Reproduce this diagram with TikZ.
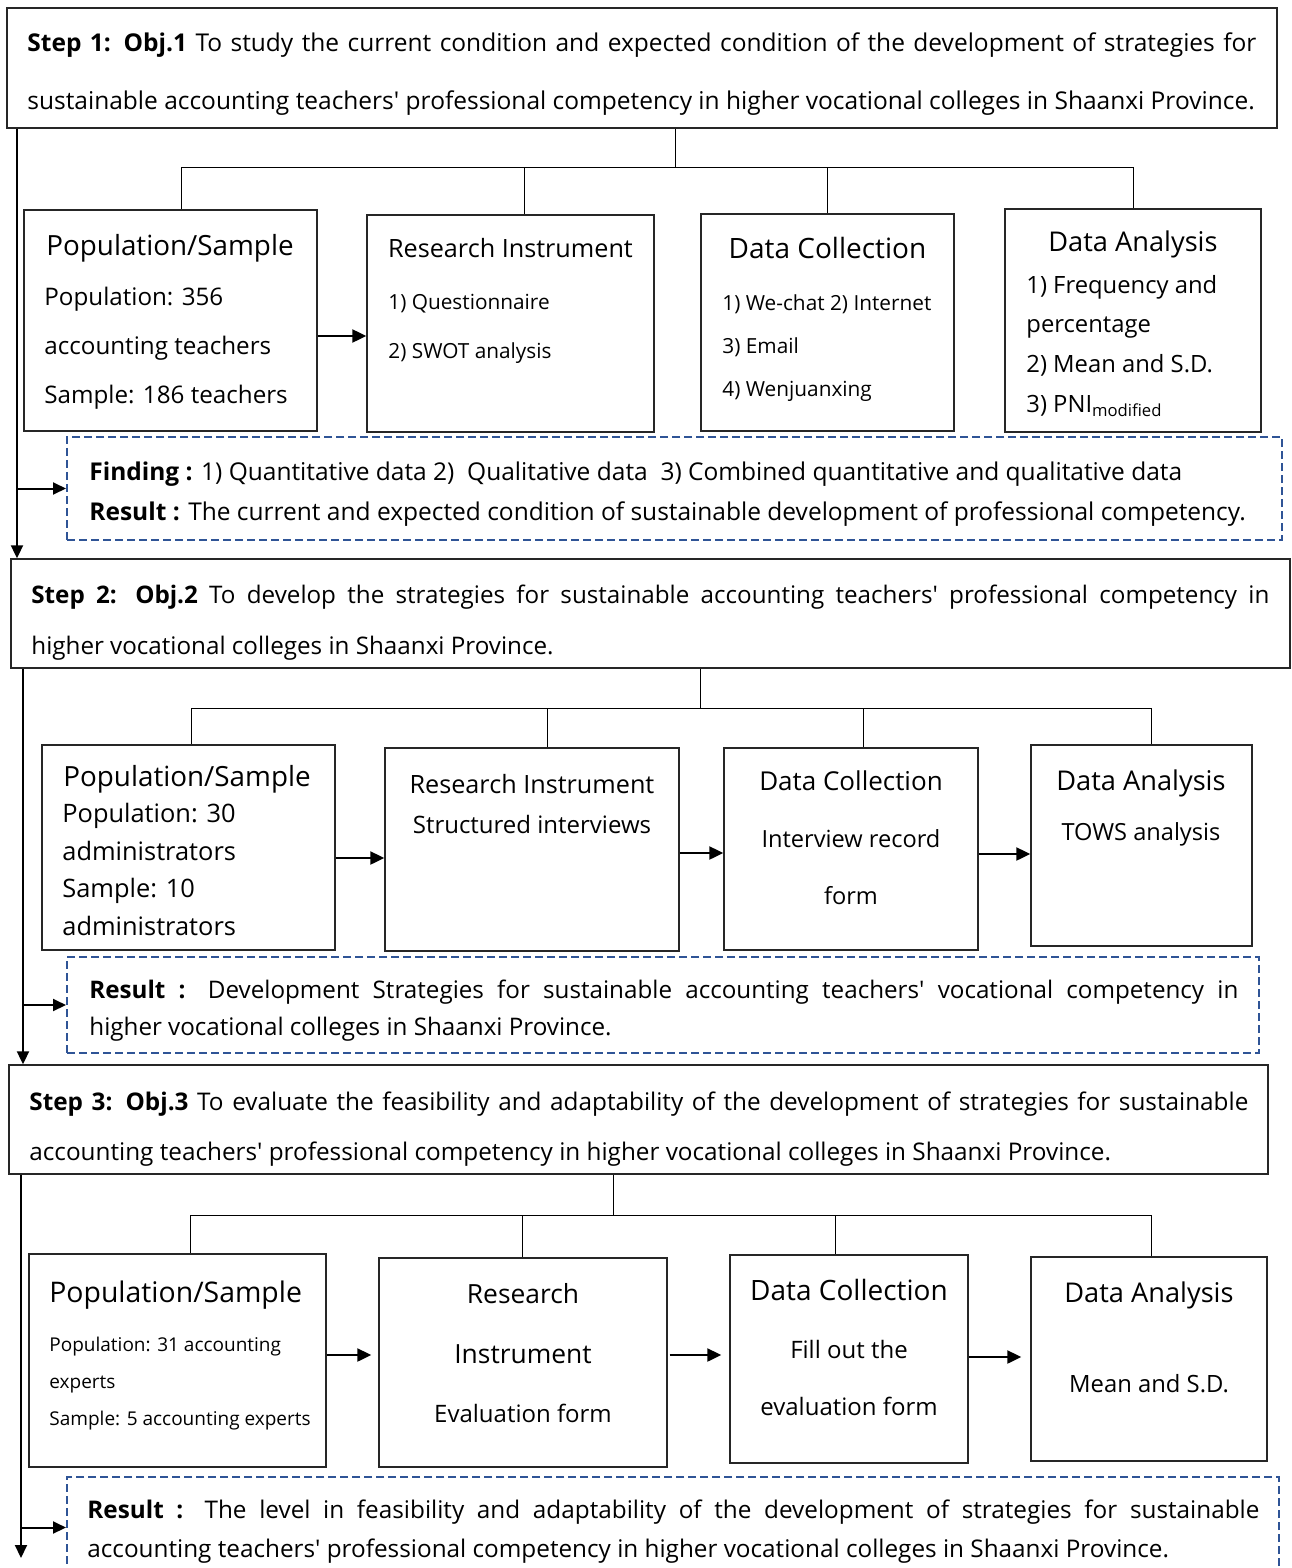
\documentclass[tikz,border=0pt]{standalone}
\usepackage{fontspec}
\newfontfamily\dfont{Open Sans}
\usetikzlibrary{arrows.meta,fit}
\definecolor{dashblue}{RGB}{47,84,150}
\newcommand{\fsz}[2]{\dfont\fontsize{#1}{#2}\selectfont}
\begin{document}
\begin{tikzpicture}[x=0.5pt,y=-0.5pt,
  box/.style={draw=black!85,line width=0.7pt,inner sep=0pt},
  resbox/.style={draw=dashblue,line width=1pt,dash pattern=on 4pt off 2pt,inner sep=0pt},
  tl/.style={anchor=base west,inner sep=0pt,align=left},
  tc/.style={anchor=base,inner sep=0pt,align=center},
  conn/.style={draw=black,line width=0.5pt},
  arr/.style={draw=black,line width=1.1pt,-{Triangle[length=7pt,width=6.5pt]}},
  flow/.style={draw=black,line width=1pt,-{Triangle[length=6.5pt,width=6pt]}},
]
\useasboundingbox[fill=white] (0,0) rectangle (1291,1568);

% ---------------- boxes ----------------
\node[box,fit={(7,8) (1277,128)}] (s1) {};
\node[box,fit={(24,210) (317,431)}] (p1) {};
\node[box,fit={(367,215) (654,432)}] (r1) {};
\node[box,fit={(701,214) (954,431)}] (c1) {};
\node[box,fit={(1005,209) (1261,432)}] (a1) {};
\node[resbox,fit={(67,437) (1282,540)}] (f1) {};

\node[box,fit={(11,559) (1290,668)}] (s2) {};
\node[box,fit={(42,745) (335,950)}] (p2) {};
\node[box,fit={(385,748) (679,951)}] (r2) {};
\node[box,fit={(724,748) (978,950)}] (c2) {};
\node[box,fit={(1031,745) (1252,946)}] (a2) {};
\node[resbox,fit={(67,957) (1259,1053)}] (f2) {};

\node[box,fit={(9,1065) (1268,1174)}] (s3) {};
\node[box,fit={(29,1254) (326,1467)}] (p3) {};
\node[box,fit={(379,1258) (667,1467)}] (r3) {};
\node[box,fit={(730,1255) (968,1463)}] (c3) {};
\node[box,fit={(1031,1257) (1267,1461)}] (a3) {};
\node[resbox,fit={(67,1477) (1279,1578)}] (f3) {};

% ---------------- texts step 1 (multi-line nodes placed at last baseline) ----------------
\node[tl,font=\fsz{12.25}{29}] (ts1) at (27,110) {\makebox[614.5pt][s]{\textbf{Step 1: Obj.1} To study the current condition and expected condition of the development of strategies for}\\sustainable accounting teachers' professional competency in higher vocational colleges in Shaanxi Province.};
\node[tc,font=\fsz{13.9}{17}] (tp1h) at (170,255) {Population/Sample};
\node[tl,font=\fsz{12.1}{24.5}] (tp1) at (44,403) {Population: 356\\accounting teachers\\Sample: 186 teachers};
\node[tc,font=\fsz{12.6}{15}] (tr1h) at (510.5,257) {Research Instrument};
\node[tl,font=\fsz{10.4}{24.5}] (tr1) at (388,358) {1) Questionnaire\\2) SWOT analysis};
\node[tc,font=\fsz{14}{17}] (tc1h) at (827.5,258) {Data Collection};
\node[tl,font=\fsz{10.4}{21.5}] (tc1) at (722,396) {1) We-chat 2) Internet\\3) Email\\4) Wenjuanxing};
\node[tc,font=\fsz{13.6}{17}] (ta1h) at (1133,251) {Data Analysis};
\node[tl,font=\fsz{11.9}{19.8}] (ta1) at (1026,412) {1) Frequency and\\percentage\\2) Mean and S.D.\\3) PNI\textsubscript{modified}};
\node[tl,font=\fsz{12.25}{20}] (tf1) at (89,520) {\textbf{Finding :} 1) Quantitative data 2)\ \ Qualitative data\ \ 3) Combined quantitative and qualitative data\\\textbf{Result :} The current and expected condition of sustainable development of professional competency.};

% ---------------- texts step 2 ----------------
\node[tl,font=\fsz{12.1}{25.5}] (ts2) at (31,654) {\makebox[619pt][s]{\textbf{Step 2: Obj.2} To develop the strategies for sustainable accounting teachers' professional competency in}\\higher vocational colleges in Shaanxi Province.};
\node[tl,font=\fsz{13.9}{17}] (tp2h) at (63,786) {Population/Sample};
\node[tl,font=\fsz{12.7}{18.7}] (tp2) at (62,935) {Population: 30\\administrators\\Sample: 10\\administrators};
\node[tc,font=\fsz{12.6}{15}] (tr2h) at (532,793) {Research Instrument};
\node[tc,font=\fsz{12}{15}] (tr2) at (532,833) {Structured interviews};
\node[tc,font=\fsz{13}{16}] (tc2h) at (851,790) {Data Collection};
\node[tc,font=\fsz{11.8}{28.5}] (tc2) at (851,904) {Interview record\\form};
\node[tc,font=\fsz{13.6}{17}] (ta2h) at (1141,790) {Data Analysis};
\node[tc,font=\fsz{11.8}{15}] (ta2) at (1141,840) {TOWS analysis};
\node[tl,font=\fsz{12.1}{18.5}] (tf2) at (89,1035) {\makebox[574.5pt][s]{\textbf{Result :} Development Strategies for sustainable accounting teachers' vocational competency in}\\higher vocational colleges in Shaanxi Province.};

% ---------------- texts step 3 ----------------
\node[tl,font=\fsz{12.15}{25}] (ts3) at (29,1160) {\makebox[609.5pt][s]{\textbf{Step 3: Obj.3} To evaluate the feasibility and adaptability of the development of strategies for sustainable}\\accounting teachers' professional competency in higher vocational colleges in Shaanxi Province.};
\node[tl,font=\fsz{14.2}{17}] (tp3h) at (49,1302) {Population/Sample};
\node[tl,font=\fsz{9.5}{18.5}] (tp3) at (49,1425) {Population: 31 accounting\\experts\\Sample: 5 accounting experts};
\node[tc,font=\fsz{13.2}{30}] (tr3h) at (523,1363) {Research\\Instrument};
\node[tc,font=\fsz{12}{15}] (tr3) at (523,1422) {Evaluation form};
\node[tc,font=\fsz{14}{17}] (tc3h) at (849,1300) {Data Collection};
\node[tc,font=\fsz{12}{28.5}] (tc3) at (849,1415) {Fill out the\\evaluation form};
\node[tc,font=\fsz{13.6}{17}] (ta3h) at (1149,1302) {Data Analysis};
\node[tc,font=\fsz{11.9}{15}] (ta3) at (1149,1392) {Mean and S.D.};
\node[tl,font=\fsz{12.15}{19.5}] (tf3) at (87,1557) {\makebox[586pt][s]{\textbf{Result :} The level in feasibility and adaptability of the development of strategies for sustainable}\\accounting teachers' professional competency in higher vocational colleges in Shaanxi Province.};

% ---------------- tree connectors ----------------
\coordinate (j1) at (675,167);
\coordinate (b1a) at (181,167); \coordinate (b1b) at (524,167);
\coordinate (b1c) at (827,167); \coordinate (b1d) at (1133,167);
\draw[conn] (j1 |- s1.south) -- (j1);
\draw[conn] (b1a) -- (b1d);
\draw[conn] (b1a) -- (b1a |- p1.north);
\draw[conn] (b1b) -- (b1b |- r1.north);
\draw[conn] (b1c) -- (b1c |- c1.north);
\draw[conn] (b1d) -- (b1d |- a1.north);

\coordinate (j2) at (700,708);
\coordinate (b2a) at (191,708); \coordinate (b2b) at (547,708);
\coordinate (b2c) at (863,708); \coordinate (b2d) at (1151,708);
\draw[conn] (j2 |- s2.south) -- (j2);
\draw[conn] (b2a) -- (b2d);
\draw[conn] (b2a) -- (b2a |- p2.north);
\draw[conn] (b2b) -- (b2b |- r2.north);
\draw[conn] (b2c) -- (b2c |- c2.north);
\draw[conn] (b2d) -- (b2d |- a2.north);

\coordinate (j3) at (613,1215);
\coordinate (b3a) at (190,1215); \coordinate (b3b) at (522,1215);
\coordinate (b3c) at (835,1215); \coordinate (b3d) at (1151,1215);
\draw[conn] (j3 |- s3.south) -- (j3);
\draw[conn] (b3a) -- (b3d);
\draw[conn] (b3a) -- (b3a |- p3.north);
\draw[conn] (b3b) -- (b3b |- r3.north);
\draw[conn] (b3c) -- (b3c |- c3.north);
\draw[conn] (b3d) -- (b3d |- a3.north);

% ---------------- arrows between boxes ----------------
\coordinate (h1) at (0,336);
\draw[arr] (p1.east |- h1) -- (r1.west |- h1);
\coordinate (h2a) at (0,858); \coordinate (h2b) at (0,853); \coordinate (h2c) at (0,854);
\draw[arr] (p2.east |- h2a) -- (r2.west |- h2a);
\draw[arr] (r2.east |- h2b) -- (c2.west |- h2b);
\draw[arr] (c2.east |- h2c) -- (a2.west |- h2c);
\coordinate (h3a) at (0,1355); \coordinate (h3b) at (0,1355); \coordinate (h3c) at (0,1357);
\draw[arr,shorten >=3.5pt] (p3.east |- h3a) -- (r3.west |- h3a);
\draw[arr,shorten >=4pt,shorten <=1pt] (r3.east |- h3b) -- (c3.west |- h3b);
\draw[arr,shorten >=4.5pt] (c3.east |- h3c) -- (a3.west |- h3c);

% ---------------- left flow lines ----------------
\coordinate (v1) at (17,0);
\draw[flow] (v1 |- s1.south) -- (v1 |- s2.north);
\draw[flow] (v1 |- f1.west) -- (f1.west);
\coordinate (v2) at (23,0);
\draw[flow] (v2 |- s2.south) -- (v2 |- s3.north);
\draw[flow] (v2 |- f2.west) -- (f2.west);
\coordinate (v3) at (21,0);
\coordinate (e3) at (21,1558);
\draw[flow] (v3 |- s3.south) -- (e3);
\draw[flow] (v3 |- f3.west) -- (f3.west);
\end{tikzpicture}
\end{document}
